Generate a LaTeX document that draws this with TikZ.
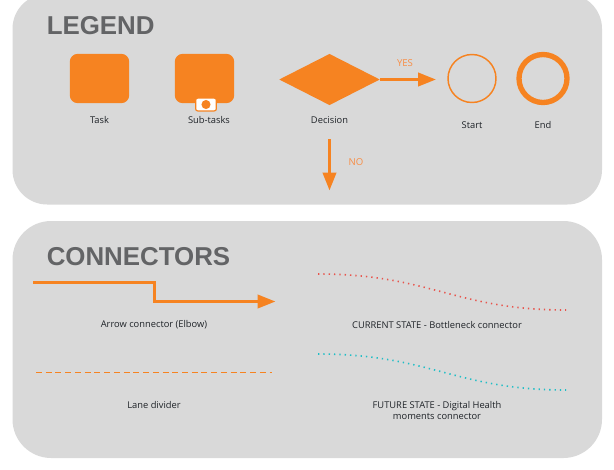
\documentclass[tikz,border=0pt]{standalone}
\usepackage{fontspec}
\setmainfont{Open Sans}
\newfontfamily\titlefont{Liberation Sans}
\usetikzlibrary{arrows.meta,shapes.geometric}
\definecolor{panelgrey}{HTML}{D9D9D9}
\definecolor{accent}{HTML}{F68321}
\definecolor{yesno}{HTML}{F88D45}
\definecolor{titlegrey}{HTML}{636466}
\definecolor{labelink}{HTML}{1F2328}
\definecolor{redline}{HTML}{E8544C}
\definecolor{tealline}{HTML}{1FBEC6}
\tikzset{
  x=0.75pt,y=-0.75pt,
  panel/.style={fill=panelgrey,draw=none},
  titletext/.style={font=\titlefont\bfseries\fontsize{19.4}{22}\selectfont,text=titlegrey,anchor=west,inner sep=0pt},
  label/.style={font=\fontsize{7}{8.2}\selectfont,text=labelink,align=center,inner sep=0pt},
  branch/.style={font=\fontsize{7.2}{8}\selectfont,text=yesno,inner sep=0pt},
  taskbox/.style={fill=accent,draw=none,rounded corners=6pt,minimum width=44.6pt,minimum height=37pt,inner sep=0pt},
  arrowline/.style={draw=accent,line width=2.25pt,-{Triangle[length=13.5pt,width=10pt,fill=accent]}},
  curvedots/.style={line width=1.2pt,dash pattern=on 1pt off 3pt},
}
\begin{document}
\begin{tikzpicture}
\useasboundingbox (0,0) rectangle (614,469);
\fill[white] (0,0) rectangle (614,469);
\fill[panel,rounded corners=26pt] (12.5,-6) rectangle (602,204.5);
\fill[panel,rounded corners=29pt] (12.5,221) rectangle (602,458);
\node[titletext] (legendtitle) at (46.5,25.5) {LEGEND};
\node[titletext] (conntitle) at (46.5,256.5) {CONNECTORS};
% Legend shapes
\node[taskbox] (task) at (99.5,78.5) {};
\node[taskbox] (subtask) at (204.5,78.5) {};
\node[fill=white,draw=accent,line width=0.9pt,rounded corners=1.5pt,minimum width=15.5pt,minimum height=9.6pt,inner sep=0pt] (subicon) at (206,104.5) {};
\fill[accent] (206,104.5) circle (3.4pt);
\node[diamond,fill=accent,draw=none,inner sep=0pt,minimum width=75.5pt,minimum height=38.5pt,aspect=2] (decision) at (329.5,79.5) {};
\node[circle,draw=accent,line width=1.1pt,minimum size=36pt,inner sep=0pt,outer sep=0pt] (start) at (472,78.5) {};
\node[circle,draw=accent,line width=4pt,minimum size=36pt,inner sep=0pt,outer sep=0pt] (end) at (543,78.5) {};
\node[label] (tasklabel) at (99.5,119.7) {Task};
\node[label] (sublabel) at (209,119.7) {Sub-tasks};
\node[label] (declabel) at (329.5,119.7) {Decision};
\node[label] (startlabel) at (472,124.7) {Start};
\node[label] (endlabel) at (543,124.7) {End};
\coordinate (yesend) at (436,79.5);
\coordinate (nostart) at (329.5,139);
\coordinate (noend) at (329.5,190.5);
\draw[arrowline] (decision.east) -- (yesend);
\draw[arrowline] (nostart) -- (noend);
\node[branch] (yes) at (405,63.5) {YES};
\node[branch] (no) at (356,162.5) {NO};
% Connectors
\coordinate (elbowa) at (33,282.5);
\coordinate (elbowb) at (154,282.5);
\coordinate (elbowc) at (154,301.5);
\coordinate (elbowd) at (275.5,301.5);
\draw[arrowline,line join=miter] (elbowa) -- (elbowb) -- (elbowc) -- (elbowd);
\node[label] (elbowlabel) at (154,324.5) {Arrow connector (Elbow)};
\coordinate (dasha) at (36,372.5);
\coordinate (dashb) at (272,372.5);
\draw[accent,line width=0.9pt,dash pattern=on 4.5pt off 2.8pt] (dasha) -- (dashb);
\node[label] (lanelabel) at (154,405) {Lane divider};
\coordinate (reda) at (318,274);
\coordinate (redb) at (566,310);
\draw[redline,curvedots] (reda) .. controls (430,274) and (455,310) .. (redb);
\node[label] (currentlabel) at (437,324.5) {CURRENT STATE - Bottleneck connector};
\coordinate (teala) at (318,354);
\coordinate (tealb) at (566,390);
\draw[tealline,curvedots] (teala) .. controls (430,354) and (455,390) .. (tealb);
\node[label] (futurelabel) at (437,410.5) {FUTURE STATE - Digital Health\\moments connector};
\end{tikzpicture}
\end{document}
